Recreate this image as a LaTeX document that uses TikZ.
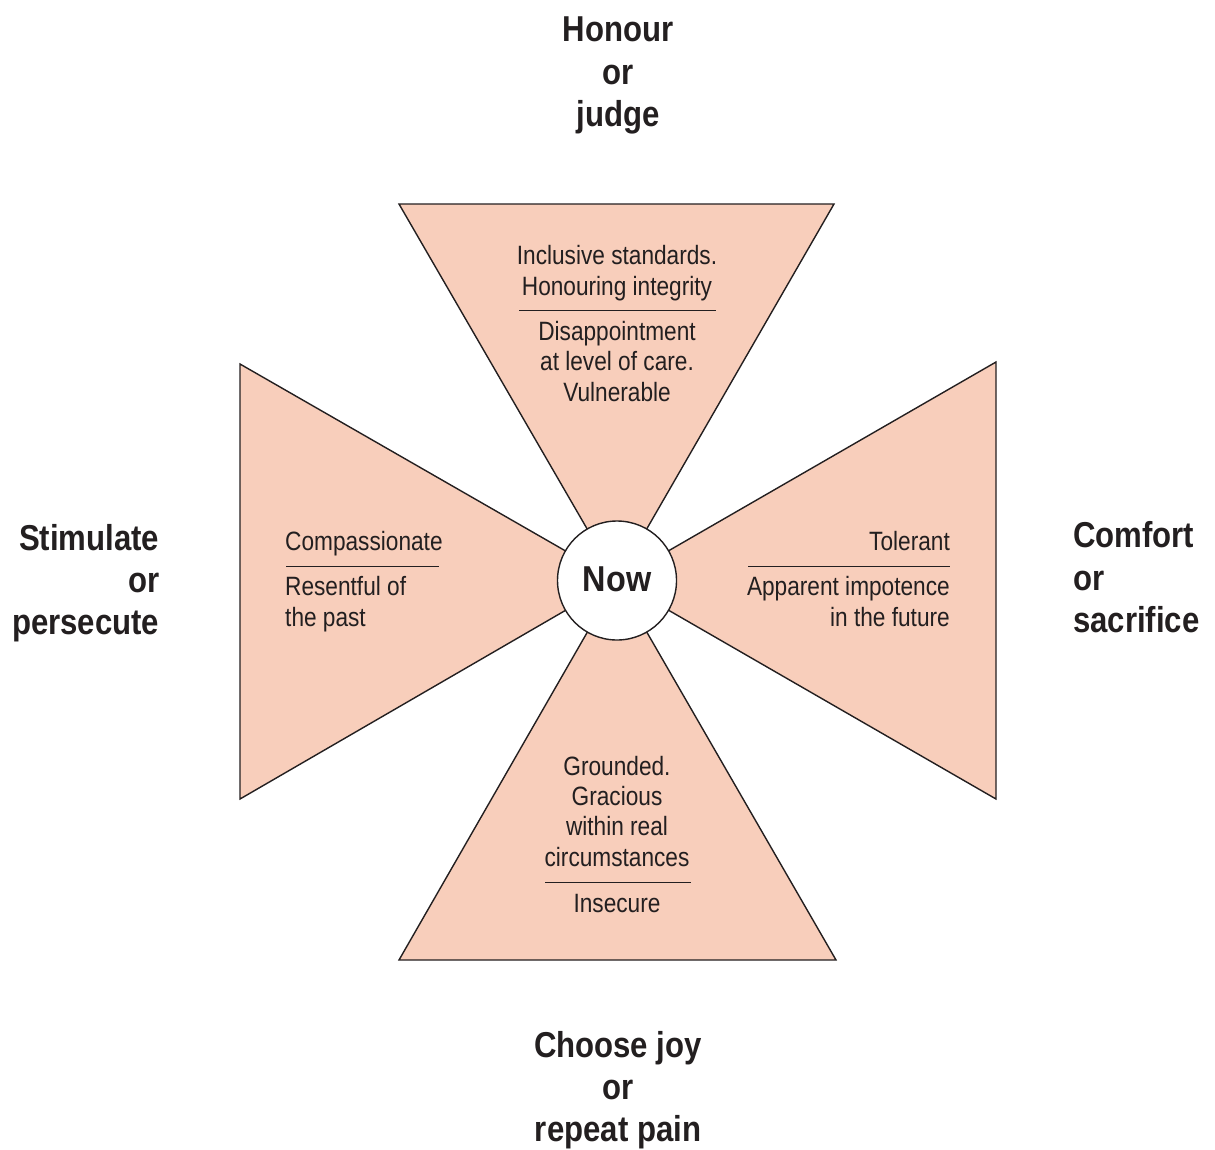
\documentclass[tikz,border=0pt]{standalone}
\usepackage{fontspec}
\setmainfont{Liberation Sans}[FakeStretch=0.855]
\newfontfamily\labelfont{Liberation Sans}[FakeStretch=0.865]
\newfontfamily\nowfont{Liberation Sans}[FakeStretch=0.9]
\definecolor{peach}{HTML}{F8CEBB}
\definecolor{ink}{HTML}{231F20}
\begin{document}
\begin{tikzpicture}[x=1pt,y=-1pt,
  petal/.style={fill=peach,draw=ink,line width=1.4pt,line join=miter},
  body/.style={font=\fontsize{26.5}{31}\selectfont,text=ink,inner sep=0pt},
  lab/.style={font=\labelfont\bfseries\fontsize{36}{43}\selectfont,text=ink,inner sep=0pt},
  rulelin/.style={draw=ink,line width=1.4pt}]
\useasboundingbox (0,0) rectangle (1215,1149);
\coordinate (c) at (617,580.5);
% petals
\path[petal] (399,204) -- (834,204) -- (c) -- cycle;
\path[petal] (240,364) -- (240,799) -- (c) -- cycle;
\path[petal] (996,362) -- (996,799) -- (c) -- cycle;
\path[petal] (399,960) -- (836,960) -- (c) -- cycle;
% centre
\node[circle,draw=ink,fill=white,line width=1.4pt,minimum size=119pt,inner sep=0pt] (now) at (c) {};
\node[font=\nowfont\bfseries\fontsize{36}{36}\selectfont,text=ink,inner sep=0pt,anchor=base] (nowtext) at (617,591) {Now};
% top petal text
\foreach \t/\y [count=\i] in {Inclusive standards./264, Honouring integrity/295}
  \node[body,anchor=base] (ta\i) at (617,\y) {\t};
\draw[rulelin] (519,310.5) -- (716,310.5);
\foreach \t/\y [count=\i] in {Disappointment/340, at level of care./370.5, Vulnerable/401}
  \node[body,anchor=base] (tb\i) at (617,\y) {\t};
% left petal text
\node[body,anchor=base west] (la1) at (285,550.5) {Compassionate};
\draw[rulelin] (286,566.5) -- (439,566.5);
\foreach \t/\y [count=\i] in {Resentful of/595.5, the past/626}
  \node[body,anchor=base west] (lb\i) at (285,\y) {\t};
% right petal text
\node[body,anchor=base east] (ra1) at (950,550.5) {Tolerant};
\draw[rulelin] (748,566.5) -- (950,566.5);
\foreach \t/\y [count=\i] in {Apparent impotence/595.5, in the future/626}
  \node[body,anchor=base east] (rb\i) at (950,\y) {\t};
% bottom petal text
\foreach \t/\y [count=\i] in {Grounded./775, Gracious/805, within real/835.5, circumstances/866}
  \node[body,anchor=base] (ba\i) at (617,\y) {\t};
\draw[rulelin] (545,882.5) -- (691,882.5);
\node[body,anchor=base] (bb1) at (617,912) {Insecure};
% outer labels
\foreach \t/\y [count=\i] in {Honour/41, or/84, judge/126}
  \node[lab,anchor=base] (nl\i) at (618,\y) {\t};
\foreach \t/\y [count=\i] in {Stimulate/550, or/592, persecute/634}
  \node[lab,anchor=base east] (wl\i) at (159.5,\y) {\t};
\foreach \t/\y [count=\i] in {Comfort/547, or/590, sacrifice/632}
  \node[lab,anchor=base west] (el\i) at (1073,\y) {\t};
\foreach \t/\y [count=\i] in {Choose joy/1057, or/1099, repeat pain/1141}
  \node[lab,anchor=base] (sl\i) at (618,\y) {\t};
\end{tikzpicture}
\end{document}
